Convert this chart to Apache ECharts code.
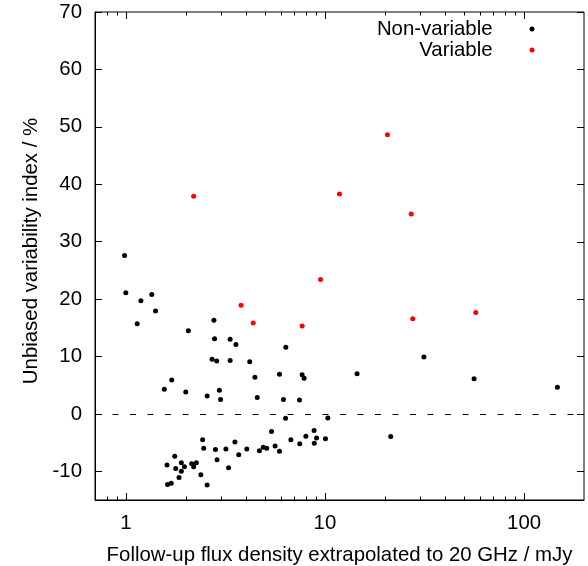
<!DOCTYPE html>
<html>
<head>
<meta charset="utf-8">
<script src="https://cdn.jsdelivr.net/npm/echarts@6/dist/echarts.min.js"></script>
<style>
html,body{margin:0;padding:0;background:#fff;}
#chart{width:588px;height:566px;}
</style>
</head>
<body>
<div id="chart"></div>
<script>
// Non-variable sources
var nonVarFlux = [
  0.985, 1.00, 1.14, 1.19, 1.35, 1.41, 1.56, 1.70, 2.00, 2.06,
  2.56, 2.71, 2.77, 2.79, 2.86, 2.95, 2.99, 3.34, 3.34, 3.57,
  4.19, 4.45, 4.57, 5.91, 6.19, 6.36, 7.45, 7.68, 7.86, 14.5,
  31.4, 56.1, 147,
  6.34, 10.34,
  1.61, 1.62, 1.69, 1.76, 1.78, 1.85, 1.90, 1.90, 1.97, 2.14,
  2.19, 2.26, 2.38, 2.56, 2.43, 2.46, 2.82, 2.87, 3.18, 3.28,
  3.53, 3.69, 4.05, 4.69, 4.90, 5.10, 5.39, 5.62, 5.91, 6.74,
  7.47, 8.02, 8.82, 8.84, 9.07, 10.06, 21.4
];
var nonVarIndex = [
  27.6, 21.1, 15.7, 19.7, 20.8, 17.9, 4.3, 5.9, 3.8, 14.5,
  3.1, 9.5, 16.3, 13.1, 9.2, 4.1, 2.5, 13.0, 9.3, 12.1,
  9.1, 6.4, 2.85, 6.9, 2.5, 11.6, 2.4, 6.8, 6.2, 7.0,
  9.9, 6.1, 4.65,
  -0.75, -0.7,
  -8.9, -12.3, -12.1, -7.4, -9.5, -11.1, -8.5, -10.0, -9.2, -8.7,
  -9.2, -8.5, -10.6, -12.4, -4.5, -6.0, -6.2, -8.0, -6.1, -9.4,
  -4.9, -7.1, -6.1, -6.4, -5.8, -6.0, -3.05, -5.6, -6.5, -4.5,
  -5.2, -3.9, -2.9, -5.1, -4.2, -4.35, -3.95
];
// Variable sources
var varFlux  = [2.19, 3.79, 4.36, 7.68, 9.50, 11.83, 20.6, 27.1, 27.6, 57.2];
var varIndex = [37.9, 18.9, 15.85, 15.3, 23.4, 38.3, 48.6, 34.8, 16.55, 17.65];

var xTickLabels = [1, 10, 100];
var xMinorTicks = [0.8, 0.9, 2, 3, 4, 5, 6, 7, 8, 9, 20, 30, 40, 50, 60, 70, 80, 90];
var yTickValues = [-10, 0, 10, 20, 30, 40, 50, 60, 70];
var seriesNames = ['Non-variable', 'Variable'];

function zip(a, b) { return a.map(function (v, i) { return [v, b[i]]; }); }

var FONT = '"Liberation Sans", Arial, Helvetica, sans-serif';
var FS = 20.4;
var black = '#000000';
var MAJOR = 7, MINOR = 3.5;

var chart = echarts.init(document.getElementById('chart'), null, {renderer: 'canvas'});

function tickLine(x1, y1, x2, y2) {
  return {type: 'line', shape: {x1: x1, y1: y1, x2: x2, y2: y2}, style: {stroke: black, lineWidth: 1}};
}

var option = {
  animation: false,
  backgroundColor: '#ffffff',
  textStyle: {fontFamily: FONT},
  grid: {left: 95, right: 4, top: 12, bottom: 66, containLabel: false, outerBoundsMode: 'none',
         show: true, borderColor: black, borderWidth: 1, backgroundColor: 'transparent'},
  legend: {
    data: seriesNames,
    orient: 'vertical', align: 'right',
    right: 53.5, top: 19, padding: 0,
    itemWidth: 5, itemHeight: 5, itemGap: 1,
    textStyle: {fontSize: FS, color: black, fontFamily: FONT, padding: [0, 32, 0, 0]}
  },
  xAxis: {
    type: 'log', logBase: 10, min: 0.7, max: 200, position: 'bottom',
    splitLine: {show: false}, minorTick: {show: false},
    axisLine: {show: true, onZero: false, lineStyle: {color: black, width: 1}},
    axisTick: {show: true, inside: true, length: MAJOR, lineStyle: {color: black, width: 1}},
    name: 'Follow-up flux density extrapolated to 20 GHz / mJy',
    nameLocation: 'middle', nameGap: 45,
    nameTextStyle: {fontSize: FS, color: black, fontFamily: FONT},
    axisLabel: {
      show: true, fontSize: FS, color: black, fontFamily: FONT, margin: 13,
      showMinLabel: false, showMaxLabel: false,
      formatter: function (v) {
        for (var i = 0; i < xTickLabels.length; i++) {
          if (Math.abs(v - xTickLabels[i]) < 1e-6 * xTickLabels[i]) return String(xTickLabels[i]);
        }
        return '';
      }
    }
  },
  yAxis: {
    type: 'value', min: -15, max: 70, position: 'left',
    splitLine: {show: false},
    axisLine: {show: true, onZero: false, lineStyle: {color: black, width: 1}},
    axisTick: {show: true, inside: true, length: MAJOR, customValues: yTickValues, lineStyle: {color: black, width: 1}},
    name: 'Unbiased variability index / %',
    nameLocation: 'middle', nameGap: 53,
    nameTextStyle: {fontSize: FS, color: black, fontFamily: FONT, padding: [0, 0, 0, 10]},
    axisLabel: {show: true, fontSize: FS, color: black, fontFamily: FONT, margin: 13, customValues: yTickValues}
  },
  series: [
    {
      name: seriesNames[0], type: 'scatter',
      symbol: 'circle', symbolSize: 5,
      itemStyle: {color: black, opacity: 1},
      data: zip(nonVarFlux, nonVarIndex),
      markLine: {
        silent: true, symbol: ['none', 'none'],
        label: {show: false},
        lineStyle: {color: black, width: 1, type: [6, 11.5], opacity: 1},
        emphasis: {disabled: true},
        data: [{yAxis: 0}]
      },
      z: 3
    },
    {
      name: seriesNames[1], type: 'scatter',
      symbol: 'circle', symbolSize: 5,
      itemStyle: {color: '#ff0000', opacity: 1},
      data: zip(varFlux, varIndex),
      z: 4
    },
    {
      // minor x ticks (bottom and top, mirrored)
      name: 'xMinor', type: 'custom', silent: true, clip: false,
      data: xMinorTicks.map(function (v) { return [v, 0]; }),
      renderItem: function (params, api) {
        var x = Math.round(api.coord([api.value(0), 0])[0]) + 0.5;
        var cs = params.coordSys;
        return {type: 'group', children: [
          tickLine(x, cs.y + cs.height, x, cs.y + cs.height - MINOR),
          tickLine(x, cs.y, x, cs.y + MINOR)
        ]};
      },
      z: 5
    },
    {
      // major x ticks mirrored on top
      name: 'xMajorTop', type: 'custom', silent: true, clip: false,
      data: xTickLabels.map(function (v) { return [v, 0]; }),
      renderItem: function (params, api) {
        var x = Math.round(api.coord([api.value(0), 0])[0]) + 0.5;
        var cs = params.coordSys;
        return tickLine(x, cs.y, x, cs.y + MAJOR);
      },
      z: 5
    },
    {
      // major y ticks mirrored on right
      name: 'yMajorRight', type: 'custom', silent: true, clip: false,
      data: yTickValues.map(function (v) { return [1, v]; }),
      renderItem: function (params, api) {
        var y = Math.round(api.coord([1, api.value(1)])[1]) + 0.5;
        var cs = params.coordSys;
        var xr = cs.x + cs.width;
        return tickLine(xr, y, xr - MAJOR, y);
      },
      z: 5
    }
  ]
};
chart.setOption(option);
</script>
</body>
</html>
